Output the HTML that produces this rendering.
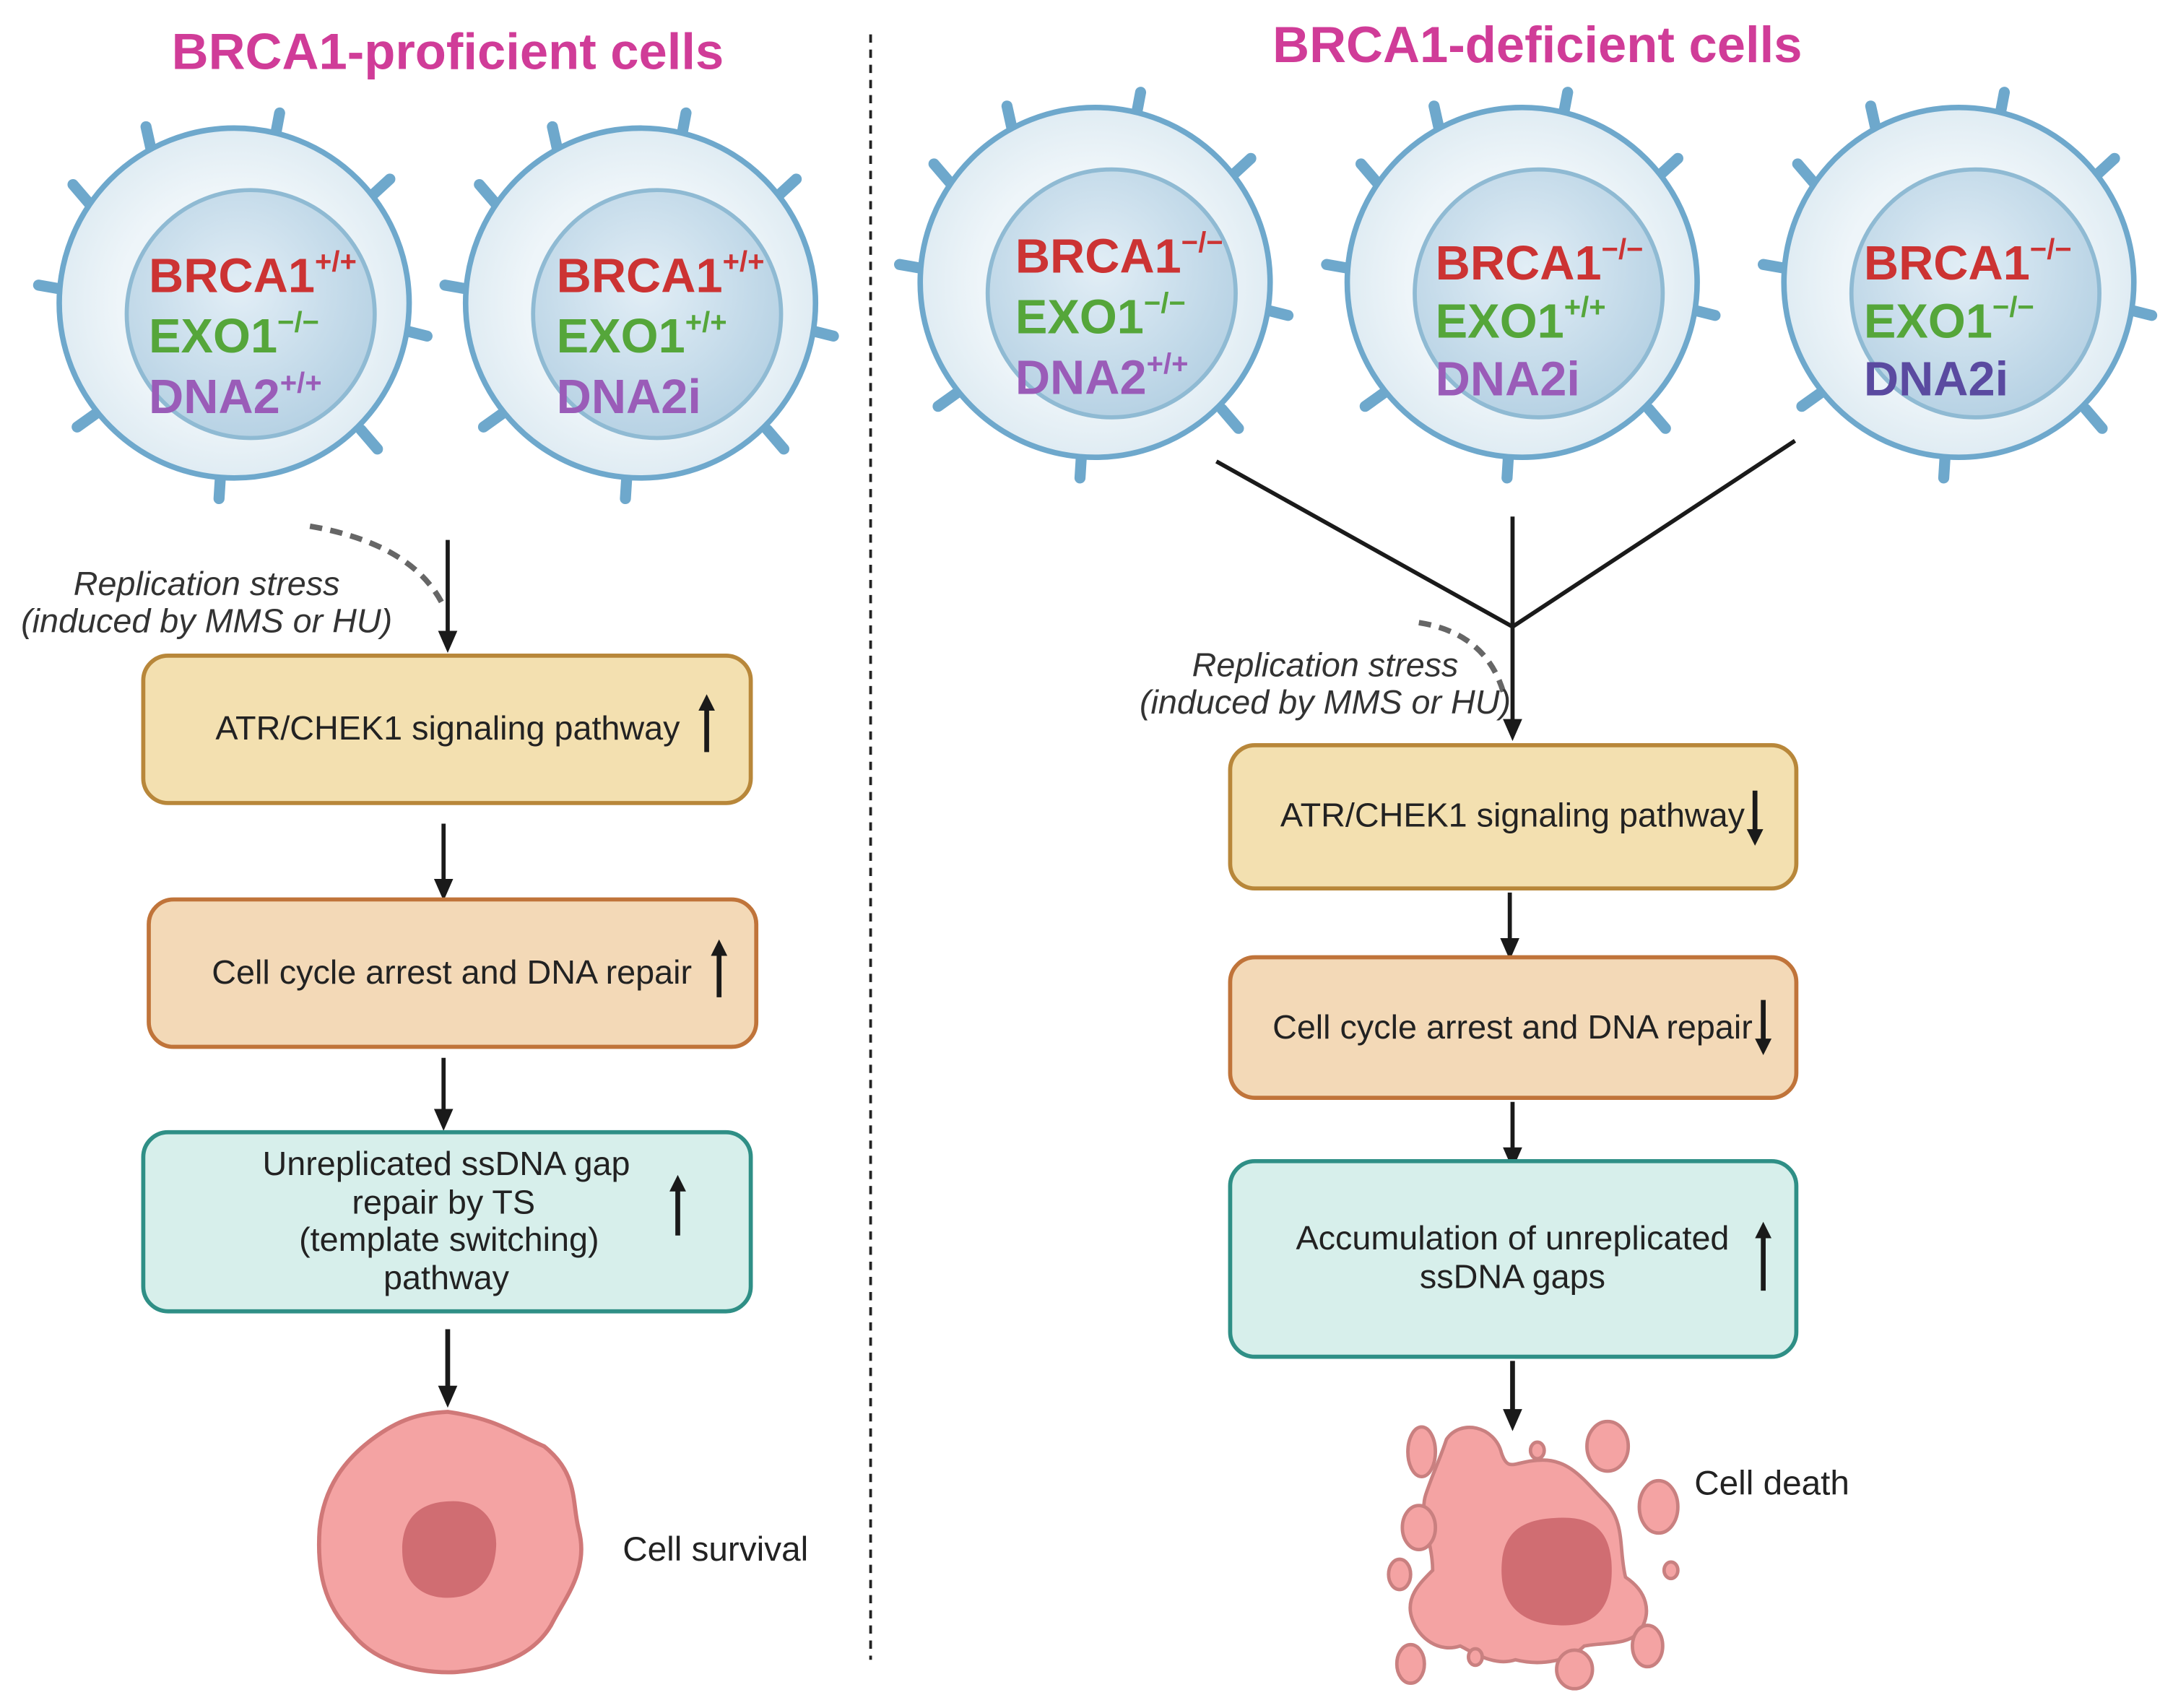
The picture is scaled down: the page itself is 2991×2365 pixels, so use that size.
<!DOCTYPE html>
<html><head><meta charset="utf-8">
<style>
html,body{margin:0;padding:0;background:#fff;}
svg{display:block;}
text{font-family:"Liberation Sans",sans-serif;}
</style></head>
<body>
<svg width="2991" height="2365" viewBox="0 0 1568 1240" preserveAspectRatio="none" xmlns="http://www.w3.org/2000/svg">
<defs>
<radialGradient id="nuc" cx="45%" cy="40%" r="60%">
<stop offset="0" stop-color="#e2eef6"/><stop offset="1" stop-color="#b7d2e4"/>
</radialGradient>
<radialGradient id="cyt" cx="50%" cy="50%" r="55%">
<stop offset="0.6" stop-color="#eef5f9"/><stop offset="1" stop-color="#dbe9f1"/>
</radialGradient>
<g id="cell">
<g stroke="#6ea8cc" stroke-width="8" stroke-linecap="round" fill="none">
<line x1="-60" y1="-110" x2="-64" y2="-128"/>
<line x1="30" y1="-122" x2="33" y2="-138"/>
<line x1="100" y1="-78" x2="113" y2="-90"/>
<line x1="124" y1="20" x2="140" y2="24"/>
<line x1="92" y1="92" x2="104" y2="106"/>
<line x1="-10" y1="126" x2="-11" y2="142"/>
<line x1="-100" y1="80" x2="-114" y2="90"/>
<line x1="-125" y1="-10" x2="-142" y2="-13"/>
<line x1="-105" y1="-72" x2="-117" y2="-86"/>
</g>
<circle r="127" fill="url(#cyt)" stroke="#6ea8cc" stroke-width="4"/>
<circle cx="12" cy="8" r="90" fill="url(#nuc)" stroke="#8fbad3" stroke-width="3"/>
</g>
<marker id="ah" markerWidth="16" markerHeight="16" refX="10" refY="8" orient="auto" markerUnits="userSpaceOnUse" viewBox="0 0 16 16">
<path d="M0,1 L16,8 L0,15 z" fill="#1a1a1a"/>
</marker>
<marker id="ah2" markerWidth="12" markerHeight="12" refX="8" refY="6" orient="auto" markerUnits="userSpaceOnUse" viewBox="0 0 12 12">
<path d="M0,0 L12,6 L0,12 z" fill="#1a1a1a"/>
</marker>
</defs>

<!-- Titles -->
<text x="325" y="50" font-size="37" font-weight="bold" fill="#d03c98" text-anchor="middle">BRCA1-proficient cells</text>
<text x="1116" y="45" font-size="37" font-weight="bold" fill="#d03c98" text-anchor="middle">BRCA1-deficient cells</text>

<line x1="632" y1="25" x2="632" y2="1205" stroke="#222" stroke-width="2" stroke-dasharray="6,5"/>

<!-- Cells -->
<use href="#cell" x="170" y="220"/>
<use href="#cell" x="465" y="220"/>
<use href="#cell" x="795" y="205"/>
<use href="#cell" x="1105" y="205"/>
<use href="#cell" x="1422" y="205"/>

<g font-weight="bold" font-size="35">
<text x="108" y="212" fill="#cc3333">BRCA1<tspan font-size="21" dy="-15">+/+</tspan></text>
<text x="108" y="256" fill="#55a63a">EXO1<tspan font-size="21" dy="-15">−/−</tspan></text>
<text x="108" y="300" fill="#9a5cb8">DNA2<tspan font-size="21" dy="-15">+/+</tspan></text>

<text x="404" y="212" fill="#cc3333">BRCA1<tspan font-size="21" dy="-15">+/+</tspan></text>
<text x="404" y="256" fill="#55a63a">EXO1<tspan font-size="21" dy="-15">+/+</tspan></text>
<text x="404" y="300" fill="#9a5cb8">DNA2i</text>

<text x="737" y="198" fill="#cc3333">BRCA1<tspan font-size="21" dy="-15">−/−</tspan></text>
<text x="737" y="242" fill="#55a63a">EXO1<tspan font-size="21" dy="-15">−/−</tspan></text>
<text x="737" y="286" fill="#9a5cb8">DNA2<tspan font-size="21" dy="-15">+/+</tspan></text>

<text x="1042" y="203" fill="#cc3333">BRCA1<tspan font-size="21" dy="-15">−/−</tspan></text>
<text x="1042" y="245" fill="#55a63a">EXO1<tspan font-size="21" dy="-15">+/+</tspan></text>
<text x="1042" y="287" fill="#9a5cb8">DNA2i</text>

<text x="1353" y="203" fill="#cc3333">BRCA1<tspan font-size="21" dy="-15">−/−</tspan></text>
<text x="1353" y="245" fill="#55a63a">EXO1<tspan font-size="21" dy="-15">−/−</tspan></text>
<text x="1353" y="287" fill="#5a4aa0">DNA2i</text>
</g>

<!-- Left flow -->
<path d="M225,382 Q300,395 322,440" fill="none" stroke="#666" stroke-width="4" stroke-dasharray="9,6"/>
<line x1="325" y1="392" x2="325" y2="468" stroke="#1a1a1a" stroke-width="3" marker-end="url(#ah)"/>
<text x="150" y="432" font-size="24.5" font-style="italic" fill="#333" text-anchor="middle">Replication stress</text>
<text x="150" y="459" font-size="24.5" font-style="italic" fill="#333" text-anchor="middle">(induced by MMS or HU)</text>

<rect x="104" y="476" width="441" height="107" rx="18" fill="#f3e0b0" stroke="#b8873a" stroke-width="3"/>
<text x="325" y="537" font-size="24.5" fill="#222" text-anchor="middle">ATR/CHEK1 signaling pathway</text>
<line x1="513" y1="546" x2="513" y2="508" stroke="#1a1a1a" stroke-width="3.5" marker-end="url(#ah2)"/>

<line x1="322" y1="598" x2="322" y2="648" stroke="#1a1a1a" stroke-width="3" marker-end="url(#ah)"/>
<rect x="108" y="653" width="441" height="107" rx="18" fill="#f3d9b7" stroke="#c0743a" stroke-width="3"/>
<text x="328" y="714" font-size="24.5" fill="#222" text-anchor="middle">Cell cycle arrest and DNA repair</text>
<line x1="522" y1="724" x2="522" y2="686" stroke="#1a1a1a" stroke-width="3.5" marker-end="url(#ah2)"/>

<line x1="322" y1="768" x2="322" y2="815" stroke="#1a1a1a" stroke-width="3" marker-end="url(#ah)"/>
<rect x="104" y="822" width="441" height="130" rx="18" fill="#d7efeb" stroke="#2f8f86" stroke-width="3"/>
<g font-size="24.5" fill="#222" text-anchor="middle">
<text x="324" y="853">Unreplicated ssDNA gap</text>
<text x="322" y="881">repair by TS</text>
<text x="326" y="908">(template switching)</text>
<text x="324" y="936">pathway</text>
</g>
<line x1="492" y1="897" x2="492" y2="857" stroke="#1a1a1a" stroke-width="3.5" marker-end="url(#ah2)"/>

<line x1="325" y1="965" x2="325" y2="1016" stroke="#1a1a1a" stroke-width="3.5" marker-end="url(#ah)"/>
<!-- Cell survival -->
<path d="M325,1025 C360,1030 372,1040 395,1050 C420,1070 415,1090 420,1110 C428,1140 410,1160 400,1180 C385,1205 355,1212 330,1214 C300,1215 270,1205 255,1185 C235,1165 230,1140 232,1110 C235,1080 250,1060 270,1045 C290,1030 305,1026 325,1025 Z" fill="#f4a3a3" stroke="#d07878" stroke-width="3"/>
<path d="M325,1090 C350,1088 362,1105 360,1125 C358,1148 345,1160 325,1160 C305,1160 292,1148 292,1125 C292,1102 305,1091 325,1090 Z" fill="#d06d72"/>
<text x="452" y="1133" font-size="25" fill="#222">Cell survival</text>

<!-- Right flow -->
<line x1="883" y1="335" x2="1098" y2="455" stroke="#1a1a1a" stroke-width="3"/>
<line x1="1303" y1="320" x2="1098" y2="455" stroke="#1a1a1a" stroke-width="3"/>
<line x1="1098" y1="375" x2="1098" y2="532" stroke="#1a1a1a" stroke-width="3" marker-end="url(#ah)"/>
<path d="M1030,452 Q1080,460 1092,505" fill="none" stroke="#666" stroke-width="4" stroke-dasharray="9,6"/>
<text x="962" y="491" font-size="24.5" font-style="italic" fill="#333" text-anchor="middle">Replication stress</text>
<text x="962" y="518" font-size="24.5" font-style="italic" fill="#333" text-anchor="middle">(induced by MMS or HU)</text>

<rect x="893" y="541" width="411" height="104" rx="18" fill="#f3e0b0" stroke="#b8873a" stroke-width="3"/>
<text x="1098" y="600" font-size="24.5" fill="#222" text-anchor="middle">ATR/CHEK1 signaling pathway</text>
<line x1="1274" y1="574" x2="1274" y2="610" stroke="#1a1a1a" stroke-width="3.5" marker-end="url(#ah2)"/>

<line x1="1096" y1="648" x2="1096" y2="691" stroke="#1a1a1a" stroke-width="3" marker-end="url(#ah)"/>
<rect x="893" y="695" width="411" height="102" rx="18" fill="#f3d9b7" stroke="#c0743a" stroke-width="3"/>
<text x="1098" y="754" font-size="24.5" fill="#222" text-anchor="middle">Cell cycle arrest and DNA repair</text>
<line x1="1280" y1="726" x2="1280" y2="762" stroke="#1a1a1a" stroke-width="3.5" marker-end="url(#ah2)"/>

<line x1="1098" y1="800" x2="1098" y2="843" stroke="#1a1a1a" stroke-width="3" marker-end="url(#ah)"/>
<rect x="893" y="843" width="411" height="142" rx="18" fill="#d7efeb" stroke="#2f8f86" stroke-width="3"/>
<text x="1098" y="907" font-size="24.5" fill="#222" text-anchor="middle">Accumulation of unreplicated</text>
<text x="1098" y="935" font-size="24.5" fill="#222" text-anchor="middle">ssDNA gaps</text>
<line x1="1280" y1="937" x2="1280" y2="891" stroke="#1a1a1a" stroke-width="3.5" marker-end="url(#ah2)"/>

<line x1="1098" y1="988" x2="1098" y2="1033" stroke="#1a1a1a" stroke-width="3.5" marker-end="url(#ah)"/>
<!-- Cell death -->
<g fill="#f4a3a3" stroke="#c98080" stroke-width="2.5">
<path d="M1050,1045 C1060,1030 1085,1035 1090,1055 C1095,1070 1100,1060 1120,1060 C1140,1060 1150,1075 1165,1090 C1180,1105 1175,1125 1180,1145 C1195,1155 1200,1170 1190,1185 C1180,1195 1165,1192 1150,1195 C1140,1205 1120,1210 1100,1205 C1085,1210 1070,1200 1060,1195 C1045,1200 1030,1190 1025,1175 C1020,1160 1030,1150 1040,1140 C1040,1120 1030,1100 1035,1085 C1040,1070 1045,1060 1050,1045 Z"/>
<ellipse cx="1032" cy="1054" rx="10" ry="18"/>
<ellipse cx="1167" cy="1050" rx="15" ry="18"/>
<ellipse cx="1116" cy="1053" rx="5" ry="6"/>
<ellipse cx="1204" cy="1094" rx="14" ry="19"/>
<ellipse cx="1030" cy="1109" rx="12" ry="16"/>
<ellipse cx="1016" cy="1143" rx="8" ry="11"/>
<ellipse cx="1213" cy="1140" rx="5" ry="6"/>
<ellipse cx="1024" cy="1208" rx="10" ry="14"/>
<ellipse cx="1071" cy="1203" rx="5" ry="6"/>
<ellipse cx="1143" cy="1212" rx="13" ry="14"/>
<ellipse cx="1196" cy="1195" rx="11" ry="15"/>
</g>
<path d="M1130,1102 C1160,1100 1170,1115 1170,1140 C1170,1165 1160,1180 1135,1180 C1110,1180 1090,1170 1090,1140 C1090,1112 1105,1103 1130,1102 Z" fill="#d06d72"/>
<text x="1230" y="1085" font-size="25" fill="#222">Cell death</text>
</svg>
</body></html>
